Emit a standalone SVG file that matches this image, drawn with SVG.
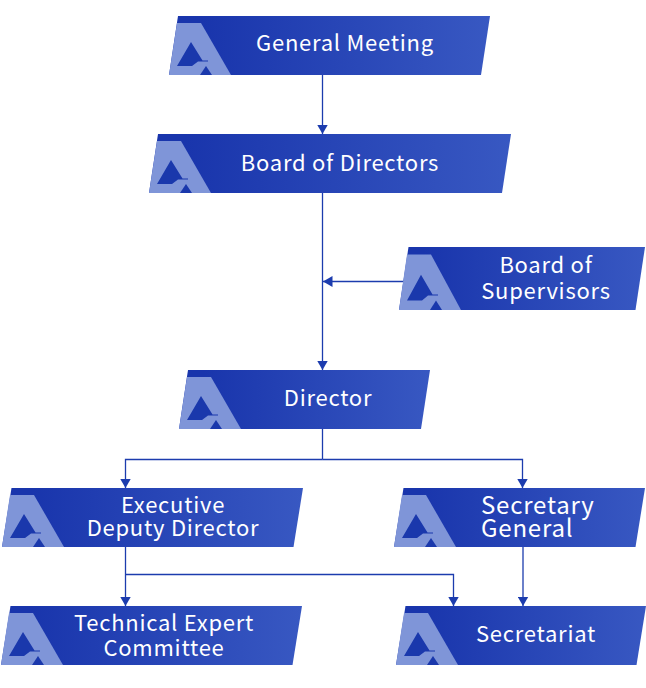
<svg xmlns="http://www.w3.org/2000/svg" width="646" height="688" viewBox="0 0 646 688">
<defs>
<linearGradient id="g" x1="0" y1="0" x2="1" y2="0"><stop offset="0.1" stop-color="#1935ac"/><stop offset="1" stop-color="#3858c2"/></linearGradient>
<marker id="arrow" markerUnits="userSpaceOnUse" markerWidth="11" markerHeight="11" refX="9.500" refY="5.500" orient="auto"><path d="M0 0L9.500 5.500L0 11Z" fill="#1c3cae"/></marker>
<g id="logo">
<path d="M0 59L8 7L32 7L62 59Z" fill="#7f95d8"/>
<path d="M22 26L8 50L23 50L29 45.500L39 45.500L39 44.500L33.500 44.500Z" fill="#1a38ac"/>
<path d="M37 50L31 59L43 59Z" fill="#1a38ac"/>
</g>
</defs>
<style>
.box{fill:url(#g)}
.t{font-family:"Noto Sans CJK SC","Noto Sans",sans-serif;font-size:22px;letter-spacing:0.75px;fill:#fff;text-anchor:middle}
.l{text-anchor:start;font-size:24px;letter-spacing:0.8px}
.c{fill:none;stroke:#1c3cae;stroke-width:1.3}
.a{marker-end:url(#arrow)}
</style>
<g id="connectors">
<path class="c a" d="M322.500 75V134"/>
<path class="c a" d="M322.500 193V370"/>
<path class="c a" d="M404 281.500H323"/>
<path class="c" d="M322.500 429V459.500"/>
<path class="c a" d="M322.500 459.500H125.500V488"/>
<path class="c a" d="M322.500 459.500H522.500V488"/>
<path class="c a" d="M125.500 547V606"/>
<path class="c a" d="M125.500 574.500H453.500V606"/>
<path class="c a" d="M523 547V606"/>
</g>
<g id="general-meeting"><path class="box" d="M178 16H490L481 75H169Z"/><use href="#logo" transform="translate(169 16)"/><text class="t" x="345" y="51">General Meeting</text></g>
<g id="board-of-directors"><path class="box" d="M158 134H511L502 193H149Z"/><use href="#logo" transform="translate(149 134)"/><text class="t" x="340" y="171">Board of Directors</text></g>
<g id="board-of-supervisors"><path class="box" d="M408.500 247H645L635.500 310H399Z"/><use href="#logo" transform="translate(399 247) scale(1 1.068)"/><text class="t" x="546" y="273">Board of</text><text class="t" x="546" y="299">Supervisors</text></g>
<g id="director"><path class="box" d="M188 370H430L421 429H179Z"/><use href="#logo" transform="translate(179 370)"/><text class="t" x="328" y="406">Director</text></g>
<g id="executive-deputy-director"><path class="box" d="M11.500 488H303L293.500 547H2Z"/><use href="#logo" transform="translate(2 488)"/><text class="t" x="173" y="513">Executive</text><text class="t" x="173" y="536">Deputy Director</text></g>
<g id="secretary-general"><path class="box" d="M403.500 488H645L635.500 547H394Z"/><use href="#logo" transform="translate(394 488)"/><text class="t l" x="481" y="514">Secretary</text><text class="t l" x="481" y="537">General</text></g>
<g id="technical-expert-committee"><path class="box" d="M10.500 606H302L292.500 665H1Z"/><use href="#logo" transform="translate(1 606)"/><text class="t" x="164" y="631">Technical Expert</text><text class="t" x="164" y="656">Committee</text></g>
<g id="secretariat"><path class="box" d="M405.500 606H646L636.500 665H396Z"/><use href="#logo" transform="translate(396 606)"/><text class="t" x="536" y="642">Secretariat</text></g>
</svg>
